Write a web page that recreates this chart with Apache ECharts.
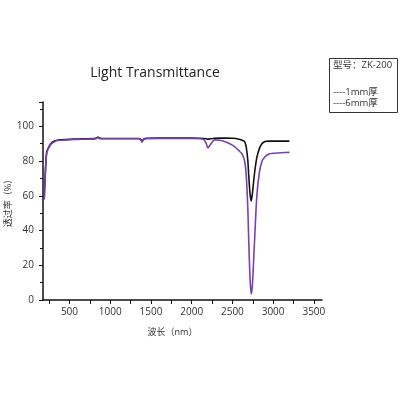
<!DOCTYPE html>
<html><head><meta charset="utf-8">
<script src="https://cdn.jsdelivr.net/npm/echarts@6/dist/echarts.min.js"></script>
<style>html,body{margin:0;padding:0;background:#fff}#c{width:400px;height:400px}</style>
</head><body><div id="c"></div>
<script>
const wavelengths = [190, 205, 220, 250, 280, 320, 350, 400, 500, 600, 700, 800, 830, 850, 870, 900, 1000, 1200, 1350, 1375, 1390, 1410, 1450, 1600, 1800, 2000, 2100, 2150, 2180, 2200, 2230, 2280, 2350, 2435, 2500, 2540, 2580, 2620, 2650, 2670, 2690, 2700, 2715, 2730, 2745, 2760, 2780, 2800, 2830, 2860, 2900, 2950, 3000, 3100, 3200];
const t1mm = [58, 75, 85, 88.5, 90.5, 91.5, 92, 92.2, 92.5, 92.7, 92.8, 92.9, 93.3, 93.8, 93.2, 93, 93, 93, 93, 92.5, 91.2, 92.6, 93.1, 93.2, 93.2, 93.2, 93.1, 93, 92.8, 92.6, 92.8, 93.1, 93.2, 93.2, 93.1, 93, 92.6, 92, 91.2, 88, 80, 72, 62, 57, 61, 68, 76, 82, 87, 89.8, 91.2, 91.5, 91.5, 91.5, 91.5];
const t6mm = [58, 74, 84.5, 88, 90, 91.2, 91.8, 92, 92.3, 92.5, 92.6, 92.7, 93, 93.5, 93, 92.8, 92.8, 92.8, 92.8, 92.2, 91, 92.3, 92.9, 93, 93, 93, 92.8, 92.3, 90, 87.5, 89.5, 92.2, 92, 90.7, 89.2, 87.8, 86, 84, 80, 72, 52, 35, 14, 3.5, 8, 22, 42, 60, 73, 79.5, 82.5, 84, 84.5, 84.8, 85];
const xTickValues = [250, 500, 750, 1000, 1250, 1500, 1750, 2000, 2250, 2500, 2750, 3000, 3250, 3500];
const xLabelValues = [500, 1000, 1500, 2000, 2500, 3000, 3500];
const title = 'Light Transmittance';
const xName = '波长（nm）';
const yName = '透过率（%）';
const legendLines = ['型号：ZK-200', '----1mm厚', '----6mm厚'];
const seriesNames = ['1mm厚', '6mm厚'];

const chart = echarts.init(document.getElementById('c'));
const font = 'Open Sans, Noto Sans CJK SC, sans-serif';
chart.setOption({
  backgroundColor: '#fff',
  animation: false,
  title: { text: title, left: 150, top: 61, textAlign: 'center',
    textStyle: { fontFamily: font, fontSize: 14, fontWeight: 'normal', color: '#222' } },
  grid: { left: 43, right: 78, top: 102, bottom: 100, containLabel: false, outerBoundsMode: 'none' },
  xAxis: {
    type: 'value', min: 175, max: 3600,
    name: xName, nameLocation: 'middle', nameGap: 28, nameMoveOverlap: false,
    nameTextStyle: { fontFamily: font, fontSize: 9, color: '#333', padding: [0, 20, 0, 0] },
    axisLine: { show: true, onZero: false, lineStyle: { color: '#111', width: 1.5 } },
    axisTick: { show: true, inside: false, length: 4, customValues: xTickValues, lineStyle: { color: '#111' } },
    axisLabel: { fontFamily: font, fontSize: 10, color: '#333', margin: 7, customValues: xLabelValues,
      formatter: v => String(v) },
    splitLine: { show: false }
  },
  yAxis: {
    type: 'value', min: 0, max: 114, interval: 20,
    name: yName, nameLocation: 'middle', nameGap: 30, nameRotate: 90, nameMoveOverlap: false,
    nameTextStyle: { fontFamily: font, fontSize: 9, color: '#333' },
    axisLine: { show: true, onZero: false, lineStyle: { color: '#111', width: 1.5 } },
    axisTick: { show: true, inside: false, length: 4, lineStyle: { color: '#111' } },
    minorTick: { show: true, splitNumber: 2, length: 3, lineStyle: { color: '#111' } },
    axisLabel: { fontFamily: font, fontSize: 10, color: '#333', margin: 9,
      formatter: v => (v % 20 === 0 ? String(v) : '') },
    splitLine: { show: false }, minorSplitLine: { show: false }
  },
  series: [
    { name: seriesNames[0], type: 'line', showSymbol: false, smooth: 0.2,
      data: wavelengths.map((w, i) => [w, t1mm[i]]),
      lineStyle: { color: '#111', width: 1.6 }, itemStyle: { color: '#111' }, z: 2 },
    { name: seriesNames[1], type: 'line', showSymbol: false, smooth: 0.2,
      data: wavelengths.map((w, i) => [w, t6mm[i]]),
      lineStyle: { color: '#7a3fb3', width: 1.6 }, itemStyle: { color: '#7a3fb3' }, z: 3 }
  ],
  graphic: [
    { type: 'rect', shape: { x: 329.5, y: 58.5, width: 68, height: 54 },
      style: { fill: '#fff', stroke: '#333', lineWidth: 1 } },
    { type: 'text', x: 333, y: 65, style: { text: legendLines[0], font: '9.5px ' + font, fill: '#333', textVerticalAlign: 'middle' } },
    { type: 'text', x: 333, y: 92, style: { text: legendLines[1], font: '9.5px ' + font, fill: '#333', textVerticalAlign: 'middle' } },
    { type: 'text', x: 333, y: 103, style: { text: legendLines[2], font: '9.5px ' + font, fill: '#333', textVerticalAlign: 'middle' } }
  ]
});
</script></body></html>
